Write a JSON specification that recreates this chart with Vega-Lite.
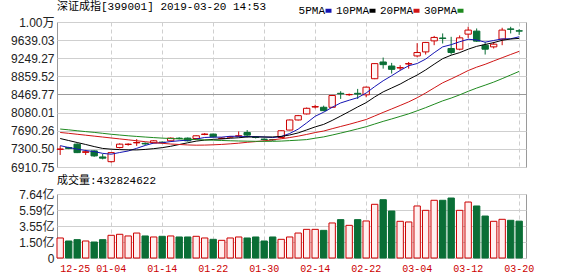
{
 "$schema": "https://vega.github.io/schema/vega-lite/v6.json",
 "padding": {"left": 10, "top": 0, "right": 4, "bottom": 0},
 "background": "white",
 "config": {
  "view": {"stroke": "#9a9a9a", "strokeWidth": 1},
  "concat": {"spacing": 0},
  "axis": {"labelFont": "Liberation Sans, Noto Sans CJK SC", "labelFontSize": 12, "labelColor": "#222", "domain": false, "ticks": false, "tickSize": 0, "labelPadding": 3, "gridColor": "#cfcfcf", "gridWidth": 1, "labelOverlap": false}
 },
 "datasets": {
  "k": [
   {"d":"12-25","o":7290,"h":7365,"l":7170,"c":7298,"v":2.39,"5PMA":7370,"10PMA":7523,"20PMA":7653,"30PMA":7727},
   {"d":"12-26","o":7330,"h":7345,"l":7295,"c":7310,"v":2.03,"5PMA":7330,"10PMA":7480,"20PMA":7635,"30PMA":7710},
   {"d":"12-27","o":7402,"h":7420,"l":7210,"c":7220,"v":2.19,"5PMA":7295,"10PMA":7437,"20PMA":7615,"30PMA":7690},
   {"d":"12-28","o":7225,"h":7280,"l":7170,"c":7240,"v":2.03,"5PMA":7265,"10PMA":7395,"20PMA":7595,"30PMA":7672},
   {"d":"01-02","o":7257,"h":7270,"l":7130,"c":7149,"v":1.91,"5PMA":7243,"10PMA":7350,"20PMA":7575,"30PMA":7655},
   {"d":"01-03","o":7127,"h":7190,"l":7075,"c":7100,"v":2.19,"5PMA":7204,"10PMA":7310,"20PMA":7555,"30PMA":7635},
   {"d":"01-04","o":7025,"h":7225,"l":7004,"c":7220,"v":2.71,"5PMA":7186,"10PMA":7294,"20PMA":7535,"30PMA":7615},
   {"d":"01-07","o":7329,"h":7420,"l":7310,"c":7402,"v":2.83,"5PMA":7222,"10PMA":7285,"20PMA":7515,"30PMA":7598},
   {"d":"01-08","o":7395,"h":7420,"l":7370,"c":7402,"v":2.63,"5PMA":7255,"10PMA":7280,"20PMA":7495,"30PMA":7582},
   {"d":"01-09","o":7430,"h":7510,"l":7365,"c":7437,"v":2.98,"5PMA":7312,"10PMA":7278,"20PMA":7475,"30PMA":7568},
   {"d":"01-10","o":7420,"h":7440,"l":7385,"c":7408,"v":2.63,"5PMA":7374,"10PMA":7289,"20PMA":7455,"30PMA":7555},
   {"d":"01-11","o":7430,"h":7490,"l":7420,"c":7474,"v":2.51,"5PMA":7425,"10PMA":7305,"20PMA":7435,"30PMA":7543},
   {"d":"01-14","o":7445,"h":7460,"l":7415,"c":7437,"v":2.59,"5PMA":7432,"10PMA":7327,"20PMA":7420,"30PMA":7532},
   {"d":"01-15","o":7474,"h":7545,"l":7460,"c":7532,"v":2.63,"5PMA":7458,"10PMA":7356,"20PMA":7405,"30PMA":7523},
   {"d":"01-16","o":7530,"h":7550,"l":7505,"c":7523,"v":2.51,"5PMA":7475,"10PMA":7394,"20PMA":7395,"30PMA":7515},
   {"d":"01-17","o":7532,"h":7545,"l":7460,"c":7474,"v":2.51,"5PMA":7488,"10PMA":7431,"20PMA":7385,"30PMA":7508},
   {"d":"01-18","o":7523,"h":7590,"l":7515,"c":7582,"v":2.59,"5PMA":7510,"10PMA":7467,"20PMA":7380,"30PMA":7500},
   {"d":"01-21","o":7610,"h":7640,"l":7595,"c":7619,"v":2.39,"5PMA":7546,"10PMA":7489,"20PMA":7382,"30PMA":7493},
   {"d":"01-22","o":7619,"h":7630,"l":7550,"c":7560,"v":2.23,"5PMA":7552,"10PMA":7505,"20PMA":7388,"30PMA":7487},
   {"d":"01-23","o":7525,"h":7550,"l":7510,"c":7532,"v":2.11,"5PMA":7553,"10PMA":7514,"20PMA":7396,"30PMA":7481},
   {"d":"01-24","o":7555,"h":7575,"l":7540,"c":7560,"v":2.39,"5PMA":7571,"10PMA":7529,"20PMA":7409,"30PMA":7475},
   {"d":"01-25","o":7575,"h":7675,"l":7560,"c":7582,"v":2.51,"5PMA":7571,"10PMA":7540,"20PMA":7423,"30PMA":7470},
   {"d":"01-28","o":7653,"h":7705,"l":7545,"c":7597,"v":2.39,"5PMA":7566,"10PMA":7556,"20PMA":7442,"30PMA":7466},
   {"d":"01-29","o":7552,"h":7570,"l":7525,"c":7545,"v":2.51,"5PMA":7563,"10PMA":7557,"20PMA":7457,"30PMA":7463},
   {"d":"01-30","o":7510,"h":7525,"l":7480,"c":7502,"v":2.03,"5PMA":7557,"10PMA":7555,"20PMA":7474,"30PMA":7462},
   {"d":"01-31","o":7500,"h":7510,"l":7475,"c":7495,"v":2.51,"5PMA":7544,"10PMA":7557,"20PMA":7494,"30PMA":7463},
   {"d":"02-01","o":7545,"h":7700,"l":7530,"c":7690,"v":2.23,"5PMA":7566,"10PMA":7568,"20PMA":7518,"30PMA":7468},
   {"d":"02-11","o":7705,"h":7930,"l":7700,"c":7922,"v":2.51,"5PMA":7631,"10PMA":7599,"20PMA":7544,"30PMA":7478},
   {"d":"02-12","o":7922,"h":8030,"l":7910,"c":8015,"v":2.98,"5PMA":7725,"10PMA":7644,"20PMA":7574,"30PMA":7488},
   {"d":"02-13","o":8052,"h":8190,"l":8040,"c":8173,"v":3.42,"5PMA":7859,"10PMA":7708,"20PMA":7611,"30PMA":7500},
   {"d":"02-14","o":8200,"h":8250,"l":8170,"c":8210,"v":3.42,"5PMA":8002,"10PMA":7773,"20PMA":7651,"30PMA":7530},
   {"d":"02-15","o":8195,"h":8230,"l":8110,"c":8123,"v":3.30,"5PMA":8089,"10PMA":7827,"20PMA":7684,"30PMA":7558},
   {"d":"02-18","o":8195,"h":8460,"l":8180,"c":8448,"v":4.18,"5PMA":8194,"10PMA":7912,"20PMA":7734,"30PMA":7598},
   {"d":"02-19","o":8495,"h":8540,"l":8375,"c":8485,"v":4.58,"5PMA":8288,"10PMA":8006,"20PMA":7782,"30PMA":7640},
   {"d":"02-20","o":8465,"h":8490,"l":8440,"c":8470,"v":3.90,"5PMA":8347,"10PMA":8103,"20PMA":7829,"30PMA":7684},
   {"d":"02-21","o":8495,"h":8590,"l":8375,"c":8480,"v":4.58,"5PMA":8401,"10PMA":8202,"20PMA":7880,"30PMA":7730},
   {"d":"02-22","o":8463,"h":8640,"l":8410,"c":8628,"v":4.42,"5PMA":8502,"10PMA":8295,"20PMA":7932,"30PMA":7777},
   {"d":"02-25","o":8809,"h":9140,"l":8800,"c":9134,"v":6.41,"5PMA":8639,"10PMA":8417,"20PMA":8008,"30PMA":7835},
   {"d":"02-26","o":9169,"h":9264,"l":9026,"c":9112,"v":6.96,"5PMA":8765,"10PMA":8526,"20PMA":8085,"30PMA":7892},
   {"d":"02-27","o":9082,"h":9150,"l":8920,"c":9011,"v":5.61,"5PMA":8873,"10PMA":8610,"20PMA":8159,"30PMA":7944},
   {"d":"02-28","o":9040,"h":9100,"l":8990,"c":9048,"v":4.38,"5PMA":8987,"10PMA":8694,"20PMA":8234,"30PMA":7999},
   {"d":"03-01","o":9125,"h":9169,"l":9026,"c":9134,"v":4.30,"5PMA":9088,"10PMA":8795,"20PMA":8311,"30PMA":8054},
   {"d":"03-04","o":9299,"h":9574,"l":9270,"c":9373,"v":6.21,"5PMA":9136,"10PMA":8888,"20PMA":8400,"30PMA":8119},
   {"d":"03-05","o":9386,"h":9600,"l":9329,"c":9589,"v":5.69,"5PMA":9231,"10PMA":8998,"20PMA":8502,"30PMA":8187},
   {"d":"03-06","o":9623,"h":9730,"l":9530,"c":9697,"v":6.89,"5PMA":9368,"10PMA":9121,"20PMA":8612,"30PMA":8260},
   {"d":"03-07","o":9685,"h":9783,"l":9567,"c":9675,"v":6.89,"5PMA":9494,"10PMA":9240,"20PMA":8721,"30PMA":8333},
   {"d":"03-08","o":9459,"h":9710,"l":9329,"c":9373,"v":7.16,"5PMA":9541,"10PMA":9315,"20PMA":8805,"30PMA":8393},
   {"d":"03-11","o":9444,"h":9740,"l":9420,"c":9688,"v":5.69,"5PMA":9604,"10PMA":9370,"20PMA":8893,"30PMA":8462},
   {"d":"03-12","o":9768,"h":9926,"l":9688,"c":9855,"v":6.68,"5PMA":9658,"10PMA":9444,"20PMA":8985,"30PMA":8538},
   {"d":"03-13","o":9833,"h":9890,"l":9602,"c":9617,"v":6.21,"5PMA":9642,"10PMA":9505,"20PMA":9058,"30PMA":8608},
   {"d":"03-14","o":9530,"h":9602,"l":9329,"c":9444,"v":5.01,"5PMA":9595,"10PMA":9545,"20PMA":9119,"30PMA":8671},
   {"d":"03-15","o":9494,"h":9602,"l":9459,"c":9552,"v":4.38,"5PMA":9631,"10PMA":9586,"20PMA":9191,"30PMA":8736},
   {"d":"03-18","o":9660,"h":9905,"l":9530,"c":9855,"v":4.62,"5PMA":9665,"10PMA":9635,"20PMA":9261,"30PMA":8811},
   {"d":"03-19","o":9880,"h":9926,"l":9783,"c":9870,"v":4.50,"5PMA":9668,"10PMA":9663,"20PMA":9330,"30PMA":8889},
   {"d":"03-20","o":9840,"h":9876,"l":9750,"c":9833,"v":4.40,"5PMA":9711,"10PMA":9676,"20PMA":9398,"30PMA":8967}
  ]
 },
 "vconcat": [
  {
   "width": 469,
   "height": 145,
   "data": {"name": "k"},
   "title": {"text": "深证成指[399001] 2019-03-20 14:53", "anchor": "start", "frame": "group", "font": "Liberation Mono, Noto Sans CJK SC", "fontSize": 11, "fontWeight": "normal", "color": "#000", "offset": 4},
   "encoding": {
    "x": {"field": "d", "type": "ordinal",
     "scale": {"domain": ["12-25","12-26","12-27","12-28","01-02","01-03","01-04","01-07","01-08","01-09","01-10","01-11","01-14","01-15","01-16","01-17","01-18","01-21","01-22","01-23","01-24","01-25","01-28","01-29","01-30","01-31","02-01","02-11","02-12","02-13","02-14","02-15","02-18","02-19","02-20","02-21","02-22","02-25","02-26","02-27","02-28","03-01","03-04","03-05","03-06","03-07","03-08","03-11","03-12","03-13","03-14","03-15","03-18","03-19","03-20"], "paddingInner": 0.25, "paddingOuter": 0.215, "align": 0},
     "axis": {"values": ["01-04","01-14","01-22","01-30","02-14","02-22","03-04","03-12","03-20"], "labels": false, "labelPadding": 0, "minExtent": 0, "maxExtent": 0, "grid": true, "gridDash": [4, 3], "bandPosition": 0.5, "title": null}}
   },
   "layer": [
    {
     "mark": {"type": "rule", "strokeWidth": 1},
     "encoding": {
      "y": {"field": "l", "type": "quantitative",
       "scale": {"domain": [6910.75, 10028.78], "nice": false, "zero": false},
       "axis": {"values": [6910.75, 7300.50, 7690.26, 8080.01, 8469.77, 8859.52, 9249.27, 9639.03, 10028.78], "tickCount": 50, "labelExpr": "datum.value > 10000 ? '1.00万' : format(datum.value, '.2f')", "title": null, "grid": true, "gridColor": {"condition": {"test": "abs(datum.value - 8469.77) < 1", "value": "#999999"}, "value": "#cfcfcf"}}},
      "y2": {"field": "h"},
      "color": {"condition": {"test": "datum.c >= datum.o", "value": "#cc0000"}, "value": "#0a6e36"}
     }
    },
    {
     "transform": [{"filter": "datum.c >= datum.o"}],
     "mark": {"type": "bar", "fill": "#fff6f6", "stroke": "#cc0000", "strokeWidth": 1},
     "encoding": {"y": {"field": "o", "type": "quantitative"}, "y2": {"field": "c"}, "width": {"band": 0.85}}
    },
    {
     "transform": [{"filter": "datum.c < datum.o"}],
     "mark": {"type": "bar", "fill": "#0a6e36", "stroke": "#0a6e36", "strokeWidth": 1},
     "encoding": {"y": {"field": "o", "type": "quantitative"}, "y2": {"field": "c"}, "width": {"band": 0.85}}
    },
    {
     "transform": [{"fold": ["5PMA", "10PMA", "20PMA", "30PMA"], "as": ["ma", "val"]}],
     "mark": {"type": "line", "strokeWidth": 1},
     "encoding": {
      "y": {"field": "val", "type": "quantitative"},
      "stroke": {"field": "ma", "type": "nominal",
       "scale": {"domain": ["5PMA", "10PMA", "20PMA", "30PMA"], "range": ["#1414b4", "#000000", "#d01515", "#1f8a1f"]},
       "legend": {"orient": "none", "legendX": 266, "legendY": -17, "direction": "horizontal", "title": null, "symbolType": "stroke", "symbolStrokeWidth": 4, "symbolSize": 36, "labelFont": "Liberation Mono", "labelFontSize": 11, "labelColor": "#000", "labelAlign": "right", "labelOffset": -9, "columnPadding": -5, "padding": 0}}
     }
    }
   ]
  },
  {
   "width": 469,
   "height": 64,
   "data": {"name": "k"},
   "title": {"text": "成交量:432824622", "anchor": "start", "frame": "group", "font": "Liberation Mono, Noto Sans CJK SC", "fontSize": 11, "fontWeight": "normal", "color": "#000", "offset": 2},
   "encoding": {
    "x": {"field": "d", "type": "ordinal",
     "scale": {"domain": ["12-25","12-26","12-27","12-28","01-02","01-03","01-04","01-07","01-08","01-09","01-10","01-11","01-14","01-15","01-16","01-17","01-18","01-21","01-22","01-23","01-24","01-25","01-28","01-29","01-30","01-31","02-01","02-11","02-12","02-13","02-14","02-15","02-18","02-19","02-20","02-21","02-22","02-25","02-26","02-27","02-28","03-01","03-04","03-05","03-06","03-07","03-08","03-11","03-12","03-13","03-14","03-15","03-18","03-19","03-20"], "paddingInner": 0.25, "paddingOuter": 0.215, "align": 0},
     "axis": {"values": ["12-25","01-04","01-14","01-22","01-30","02-14","02-22","03-04","03-12","03-20"], "labels": true, "labelAngle": 0, "labelColor": "#cc0000", "labelFont": "Liberation Mono", "labelFontSize": 10, "labelPadding": 5, "labelAlign": {"condition": {"test": "datum.value == '12-25'", "value": "left"}, "value": "center"}, "grid": true, "gridDash": [4, 3], "gridOpacity": {"condition": {"test": "datum.value == '12-25'", "value": 0}, "value": 1}, "bandPosition": 0.5, "title": null}}
   },
   "layer": [
    {
     "transform": [{"filter": "datum.c >= datum.o"}],
     "mark": {"type": "bar", "fill": "#fff0f0", "stroke": "#cc0000", "strokeWidth": 1},
     "encoding": {
      "y": {"field": "v", "type": "quantitative",
       "scale": {"domain": [0, 7.64], "nice": false, "zero": true},
       "axis": {"values": [0, 1.91, 3.82, 5.73, 7.64], "tickCount": 50, "labelExpr": "datum.value == 0 ? '0' : datum.value < 2 ? '1.50亿' : datum.value < 4 ? '3.55亿' : datum.value < 6 ? '5.59亿' : '7.64亿'", "title": null, "grid": true}},
      "width": {"band": 0.85}
     }
    },
    {
     "transform": [{"filter": "datum.c < datum.o"}],
     "mark": {"type": "bar", "fill": "#0a6e36", "stroke": "#0a6e36", "strokeWidth": 1},
     "encoding": {"y": {"field": "v", "type": "quantitative"}, "width": {"band": 0.85}}
    }
   ]
  }
 ]
}
